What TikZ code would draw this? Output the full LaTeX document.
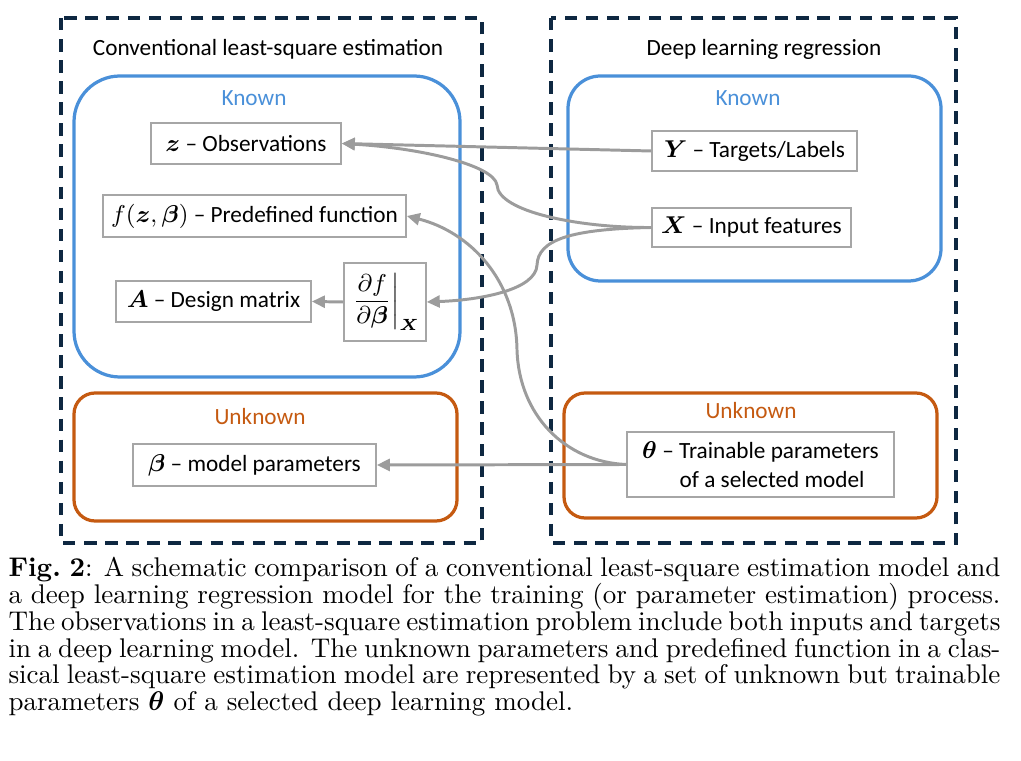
\documentclass[tikz,border=0pt]{standalone}
\usepackage{amsmath,amssymb}
\usepackage{fontspec}
\newfontfamily\diagfont{Carlito}
\usepackage{tikz}
\usetikzlibrary{arrows.meta}
\definecolor{knownblue}{HTML}{4A90D9}
\definecolor{unknownorange}{HTML}{C55A11}
\definecolor{framenavy}{HTML}{0E2841}
\definecolor{flowgray}{HTML}{9C9C9C}
\definecolor{boxgray}{HTML}{A6A6A6}

\begin{document}
\begin{tikzpicture}[x=0.37pt,y=-0.37pt,
  frame/.style={draw=framenavy,line width=1.25pt,dash pattern=on 4.6pt off 3.2pt},
  known/.style={draw=knownblue,line width=1.2pt},
  unknown/.style={draw=unknownorange,line width=1.2pt},
  item/.style={draw=boxgray,line width=0.6pt,inner sep=0pt,font=\diagfont\fontsize{8.6}{10.5}\selectfont},
  label/.style={font=\diagfont\fontsize{8.6}{10.5}\selectfont},
  flow/.style={draw=flowgray,line width=1.1pt,-{Triangle[length=4.8pt,width=4.4pt]}}]
\useasboundingbox (0,0) rectangle (1021,761);
\draw[frame] (61,18) rectangle (482,543);
\draw[frame] (551,18) rectangle (956,543);
\draw[known,rounded corners=17pt] (74,76) rectangle (460,377);
\draw[known,rounded corners=12pt] (568,76) rectangle (941,281);
\draw[unknown,rounded corners=7.8pt] (74,393) rectangle (457,521);
\draw[unknown,rounded corners=7.8pt] (564,393) rectangle (937,518);
\node[label] (lsq) at (268,49) {Conventional least-square estimation};
\node[label] (dlr) at (764,49) {Deep learning regression};
\node[label,text=knownblue] (known1) at (254,98) {Known};
\node[label,text=knownblue] (known2) at (748,98) {Known};
\node[label,text=unknownorange] (unknown1) at (260,417) {Unknown};
\node[label,text=unknownorange] (unknown2) at (751,411) {Unknown};
\node[item,minimum width=70.3pt,minimum height=15.2pt] (obs) at (246,143.5) {$\boldsymbol{z}$ – Observations};
\node[item,minimum width=112.1pt,minimum height=15.5pt] (fun) at (254.5,216) {$f(\boldsymbol{z},\boldsymbol{\beta})$ – Predefined function};
\node[item,minimum width=72.2pt,minimum height=15.2pt] (design) at (213.5,301.5) {$\boldsymbol{A}$ – Design matrix};
\node[item,minimum width=30.3pt,minimum height=28.9pt] (deriv) at (385,302) {$\left.\dfrac{\partial f}{\partial\boldsymbol{\beta}}\right|_{\boldsymbol{X}}$};
\node[item,minimum width=75.9pt,minimum height=14.8pt] (tgt) at (754.5,151) {$\boldsymbol{Y}$ – Targets/Labels};
\node[item,minimum width=73.6pt,minimum height=14.4pt] (inp) at (751.5,227.5) {$\boldsymbol{X}$ – Input features};
\node[item,minimum width=89.9pt,minimum height=15.5pt] (beta) at (254.5,465) {$\boldsymbol{\beta}$ – model parameters};
\node[item,minimum width=98.8pt,minimum height=24.1pt,align=center] (theta) at (760.5,464.5) {$\boldsymbol{\theta}$ – Trainable parameters\\\hspace*{1em}of a selected model};
\coordinate (kinkA) at (497,185);
\coordinate (kinkB) at (537,265);
\coordinate (kinkC) at (517,350);
\draw[flow] (tgt.west) -- (obs.east);
\draw[flow] (inp.west) .. controls (580,228) and (498,212) .. (kinkA) .. controls (494,165) and (420,148) .. (obs.east);
\draw[flow] (inp.west) .. controls (570,229) and (538,240) .. (kinkB) .. controls (536,290) and (480,300) .. (deriv.east);
\draw[flow] (theta.west) .. controls (565,462) and (519,415) .. (kinkC) .. controls (516,280) and (470,232) .. (fun.east);
\draw[flow] (theta.west) -- (beta.east);
\draw[flow] (deriv.west) -- (design.east);
\node[anchor=north west,inner sep=0pt,text width=367pt,align=justify,font=\fontsize{10}{9.9}\selectfont] (caption) at (8,557) {\textbf{Fig.~2}: A schematic comparison of a conventional least-square estimation model and\linebreak a deep learning regression model for the training (or parameter estimation) process.\linebreak The observations in a least-square estimation problem include both inputs and targets\linebreak in a deep learning model. The unknown parameters and predefined function in a clas-\linebreak sical least-square estimation model are represented by a set of unknown but trainable\linebreak parameters $\boldsymbol{\theta}$ of a selected deep learning model.};
\end{tikzpicture}
\end{document}
